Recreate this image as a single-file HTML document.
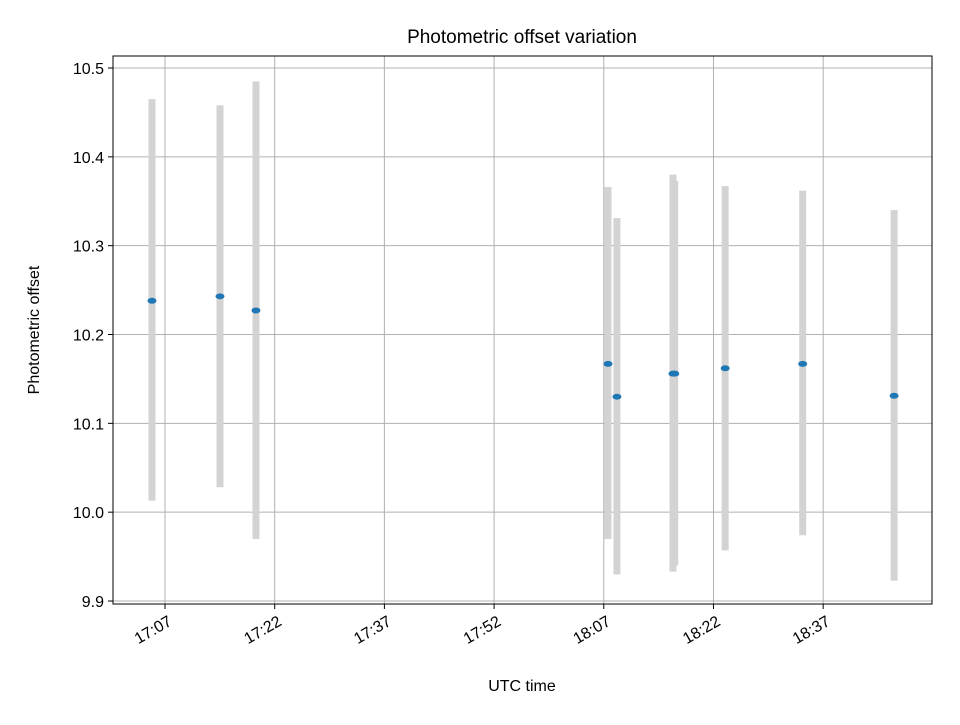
<!DOCTYPE html>
<html><head><meta charset="utf-8"><style>
body{margin:0;background:#fff;font-family:"Liberation Sans","DejaVu Sans",sans-serif}
</style></head><body>
<svg id="chart" width="960" height="720" xmlns="http://www.w3.org/2000/svg" font-family="Liberation Sans, DejaVu Sans, sans-serif">
<rect width="960" height="720" fill="#fff"/>
<g id="grid"></g>
<g id="bars"></g>
<g id="pts"></g>
<rect x="113" y="56" width="819" height="548" fill="none" stroke="#000" stroke-width="1"/>
<g id="ticks" font-size="16"></g>
<text x="522" y="43" text-anchor="middle" font-size="19">Photometric offset variation</text>
<text x="522" y="691" text-anchor="middle" font-size="16">UTC time</text>
<text transform="translate(39,330) rotate(-90)" text-anchor="middle" font-size="16">Photometric offset</text>
</svg>
<script>
// minutes after 17:00 UTC
const times=[5.22,14.52,19.44,67.58,68.8,76.46,76.7,83.6,94.2,106.7];
const values=[10.238,10.243,10.227,10.167,10.130,10.156,10.156,10.162,10.167,10.131];
const lows=[10.013,10.028,9.970,9.970,9.930,9.933,9.940,9.957,9.974,9.923];
const highs=[10.465,10.458,10.485,10.366,10.331,10.380,10.373,10.367,10.362,10.340];
const xTickMins=[7,22,37,52,67,82,97];
const xTickLabels=["17:07","17:22","17:37","17:52","18:07","18:22","18:37"];
const yTicks=[9.9,10.0,10.1,10.2,10.3,10.4,10.5];
const yTickLabels=["9.9","10.0","10.1","10.2","10.3","10.4","10.5"];
const NS="http://www.w3.org/2000/svg";
const X=m=>165+(m-7)*7.313;
const Y=v=>601-(v-9.9)*888.3;
function mk(parent,tag,attrs){const e=document.createElementNS(NS,tag);for(const k in attrs)e.setAttribute(k,attrs[k]);document.getElementById(parent).appendChild(e);return e;}
xTickMins.forEach((m,i)=>{
 const x=X(m);
 const g=mk('grid','line',{x1:x,x2:x,y1:56,y2:604,stroke:'#b0b0b0','stroke-width':1});
 
 
 const t=mk('ticks','line',{x1:x,x2:x,y1:604,y2:609,stroke:'#000'});
 
 
 const lx=x+2, ly=626;
 const l=mk('ticks','text',{x:lx,y:ly,'text-anchor':'end',transform:`rotate(-30 ${lx} ${ly-12})`});
 l.textContent=xTickLabels[i];
 
 
});
yTicks.forEach((v,i)=>{
 const y=Y(v);
 const g=mk('grid','line',{x1:113,x2:932,y1:y,y2:y,stroke:'#b0b0b0','stroke-width':1});
 
 
 const t=mk('ticks','line',{x1:108,x2:113,y1:y,y2:y,stroke:'#000'});
 
 
 const l=mk('ticks','text',{x:104,y:y+6,'text-anchor':'end'});
 l.textContent=yTickLabels[i];
 
 
});
times.forEach((m,i)=>{
 const x=X(m);
 const b=mk('bars','line',{x1:x,x2:x,y1:Y(lows[i]),y2:Y(highs[i]),stroke:'#d3d3d3','stroke-width':7});
 
 
 const p=mk('pts','ellipse',{cx:x,cy:Y(values[i]),rx:4.5,ry:3,fill:'#1f77b4'});
 
 
});
</script>
</body></html>
